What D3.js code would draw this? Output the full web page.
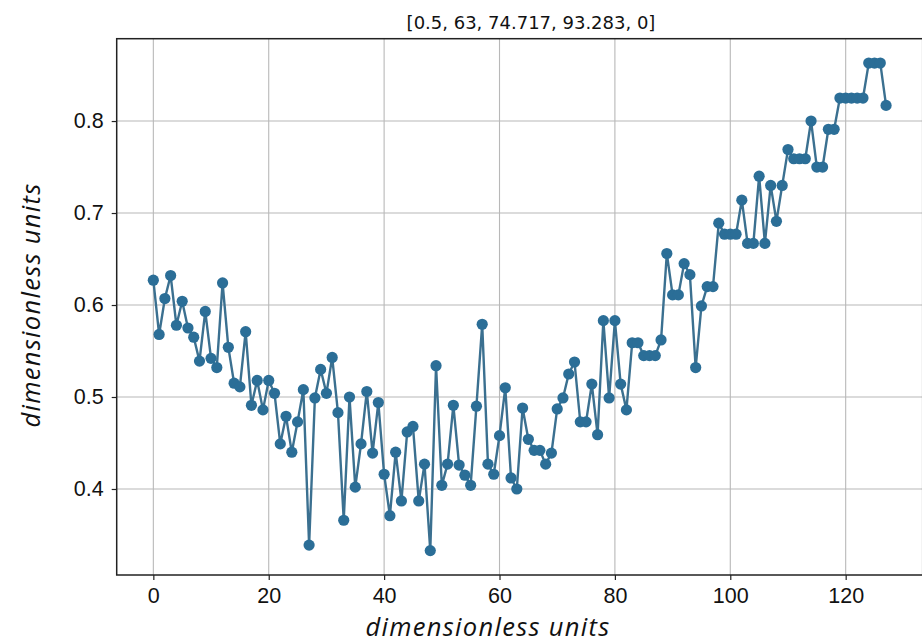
<!DOCTYPE html>
<html>
<head>
<meta charset="utf-8">
<script src="https://cdn.jsdelivr.net/npm/d3@7"></script>
<style>
  html, body { margin: 0; padding: 0; background: #ffffff; }
  svg { display: block; }
</style>
</head>
<body>
<svg id="chart" width="922" height="644"></svg>
<script>
// ---- data ----
const title = "[0.5, 63, 74.717, 93.283, 0]";
const xLabel = "dimensionless units";
const yLabel = "dimensionless units";
const xTicks = [0, 20, 40, 60, 80, 100, 120];
const yTicks = [0.4, 0.5, 0.6, 0.7, 0.8];
const values = [
  0.627, 0.568, 0.607, 0.632, 0.578, 0.604, 0.575, 0.565, 0.539, 0.593,
  0.542, 0.532, 0.624, 0.554, 0.515, 0.511, 0.571, 0.491, 0.518, 0.486,
  0.518, 0.504, 0.449, 0.479, 0.440, 0.473, 0.508, 0.339, 0.499, 0.530,
  0.504, 0.543, 0.483, 0.366, 0.500, 0.402, 0.449, 0.506, 0.439, 0.494,
  0.416, 0.371, 0.440, 0.387, 0.462, 0.468, 0.387, 0.427, 0.333, 0.534,
  0.404, 0.427, 0.491, 0.426, 0.415, 0.404, 0.490, 0.579, 0.427, 0.416,
  0.458, 0.510, 0.412, 0.400, 0.488, 0.454, 0.442, 0.442, 0.427, 0.439,
  0.487, 0.499, 0.525, 0.538, 0.473, 0.473, 0.514, 0.459, 0.583, 0.499,
  0.583, 0.514, 0.486, 0.559, 0.559, 0.545, 0.545, 0.545, 0.562, 0.656,
  0.611, 0.611, 0.645, 0.633, 0.532, 0.599, 0.620, 0.620, 0.689, 0.677,
  0.677, 0.677, 0.714, 0.667, 0.667, 0.740, 0.667, 0.730, 0.691, 0.730,
  0.769, 0.759, 0.759, 0.759, 0.800, 0.750, 0.750, 0.791, 0.791, 0.825,
  0.825, 0.825, 0.825, 0.825, 0.863, 0.863, 0.863, 0.817
];
const points = values.map((v, i) => ({ x: i, y: v }));

// ---- layout ----
const svg = d3.select("#chart");
const plot = { left: 116.7, right: 922.7, top: 38.7, bottom: 575 };

const xExt = d3.extent(points, d => d.x);
const xPad = (xExt[1] - xExt[0]) * 0.05;
const yExt = d3.extent(points, d => d.y);
const yPad = (yExt[1] - yExt[0]) * 0.05;

const x = d3.scaleLinear().domain([xExt[0] - xPad, xExt[1] + xPad]).range([plot.left, plot.right]);
const y = d3.scaleLinear().domain([yExt[0] - yPad, yExt[1] + yPad]).range([plot.bottom, plot.top]);

// grid
const grid = svg.append("g").attr("class", "grid");
grid.selectAll("line.vx").data(xTicks).enter().append("line")
  .attr("x1", d => x(d)).attr("x2", d => x(d))
  .attr("y1", plot.top).attr("y2", plot.bottom)
  .attr("stroke", "#b8b8b8").attr("stroke-width", 1.1);
grid.selectAll("line.hy").data(yTicks).enter().append("line")
  .attr("x1", plot.left).attr("x2", plot.right)
  .attr("y1", d => y(d)).attr("y2", d => y(d))
  .attr("stroke", "#b8b8b8").attr("stroke-width", 1.1);

// axes
const xAxis = d3.axisBottom(x).tickValues(xTicks).tickFormat(d3.format("d")).tickSizeOuter(0).tickSizeInner(5).tickPadding(6);
const yAxis = d3.axisLeft(y).tickValues(yTicks).tickFormat(d3.format(".1f")).tickSizeOuter(0).tickSizeInner(5).tickPadding(8);

const gx = svg.append("g").attr("transform", `translate(0,${plot.bottom})`).call(xAxis);
const gy = svg.append("g").attr("transform", `translate(${plot.left},0)`).call(yAxis);
[gx, gy].forEach(g => {
  g.select(".domain").remove();
  g.selectAll(".tick line").attr("stroke", "#222").attr("stroke-width", 1.2);
  g.selectAll(".tick text")
    .attr("fill", "#111")
    .style("font-family", "'Liberation Sans', Arial, sans-serif")
    .style("font-size", "21.5px");
});
gx.selectAll(".tick text").attr("dy", "0.8em");

// frame
svg.append("rect")
  .attr("x", plot.left).attr("y", plot.top)
  .attr("width", plot.right - plot.left).attr("height", plot.bottom - plot.top)
  .attr("fill", "none").attr("stroke", "#222").attr("stroke-width", 1.5);

// line
const line = d3.line().x(d => x(d.x)).y(d => y(d.y));
svg.append("path").datum(points)
  .attr("d", line)
  .attr("fill", "none")
  .attr("stroke", "#3b7090")
  .attr("stroke-width", 2.4);

// markers
svg.append("g").selectAll("circle").data(points).enter().append("circle")
  .attr("cx", d => x(d.x)).attr("cy", d => y(d.y))
  .attr("r", 5.6)
  .attr("fill", "#2b6e97");

// title
svg.append("text")
  .attr("x", 531).attr("y", 29)
  .attr("text-anchor", "middle")
  .style("font-family", "'DejaVu Sans', sans-serif")
  .style("font-size", "18px")
  .attr("fill", "#111")
  .text(title);

// axis labels
svg.append("text")
  .attr("x", 488).attr("y", 636)
  .attr("text-anchor", "middle")
  .style("font-family", "'Open Sans', sans-serif")
  .style("font-style", "italic")
  .style("font-size", "25.5px")
  .style("letter-spacing", "1.3px")
  .attr("fill", "#111")
  .text(xLabel);

svg.append("text")
  .attr("transform", "translate(40,305) rotate(-90)")
  .attr("text-anchor", "middle")
  .style("font-family", "'Open Sans', sans-serif")
  .style("font-style", "italic")
  .style("font-size", "25.5px")
  .style("letter-spacing", "1.3px")
  .attr("fill", "#111")
  .text(yLabel);
</script>
</body>
</html>
